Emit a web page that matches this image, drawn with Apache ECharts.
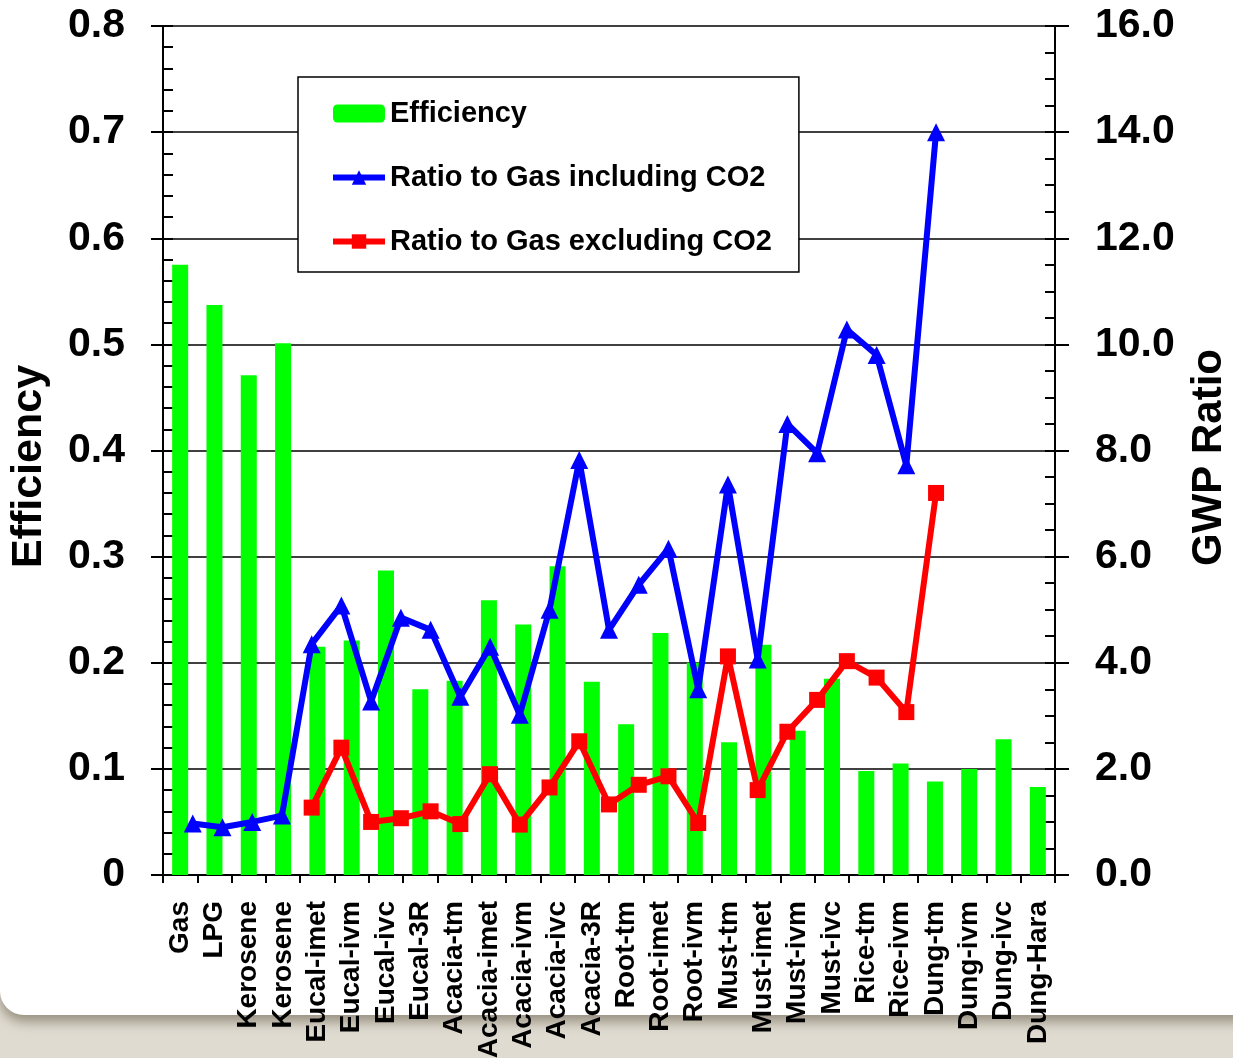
<!DOCTYPE html>
<html>
<head>
<meta charset="utf-8">
<script src="https://cdn.jsdelivr.net/npm/echarts@6/dist/echarts.min.js"></script>
<style>
  html, body { margin: 0; padding: 0; }
  body { width: 1233px; height: 1058px; background: #e0dbd1; position: relative; overflow: hidden; }
  #card {
    position: absolute; left: 0; top: -40px; width: 1300px; height: 1055px;
    background: #ffffff; border-radius: 0 0 0 24px;
    box-shadow: 0 7px 12px rgba(95, 85, 65, 0.55);
  }
  #chart { position: absolute; left: 0; top: 0; width: 1233px; height: 1058px; }
</style>
</head>
<body>
<div id="card"></div>
<div id="chart"></div>
<script>
// categories along the bottom
var fuels = ['Gas', 'LPG', 'Kerosene', 'Kerosene', 'Eucal-imet', 'Eucal-ivm', 'Eucal-ivc', 'Eucal-3R',
  'Acacia-tm', 'Acacia-imet', 'Acacia-ivm', 'Acacia-ivc', 'Acacia-3R', 'Root-tm', 'Root-imet', 'Root-ivm',
  'Must-tm', 'Must-imet', 'Must-ivm', 'Must-ivc', 'Rice-tm', 'Rice-ivm', 'Dung-tm', 'Dung-ivm', 'Dung-ivc', 'Dung-Hara'];

// efficiency (left axis)
var efficiency = [0.575, 0.537, 0.471, 0.501, 0.215, 0.221, 0.287, 0.175, 0.183, 0.259, 0.236, 0.291, 0.182,
  0.142, 0.228, 0.200, 0.125, 0.217, 0.136, 0.185, 0.098, 0.105, 0.088, 0.100, 0.128, 0.083];

// GWP ratios (right axis); the lines sit on their own 30-step x scale, as in the original sheet
var inclCO2 = [0.97, 0.90, 1.00, 1.12, 4.35, 5.08, 3.27, 4.85, 4.62, 3.36, 4.30, 3.02, 5.00, 7.82, 4.62,
  5.47, 6.15, 3.50, 7.36, 4.06, 8.50, 7.95, 10.28, 9.80, 7.72, 14.00];
var exclCO2 = [1.27, 2.40, 1.00, 1.07, 1.20, 0.96, 1.90, 0.95, 1.65, 2.52, 1.33, 1.70, 1.86, 0.98, 4.12,
  1.60, 2.70, 3.30, 4.03, 3.72, 3.07, 7.20];
var inclStart = 1;
var exclStart = 5;

var font = '"Liberation Sans", Arial, sans-serif';

var chart = echarts.init(document.getElementById('chart'));

var option = {
  animation: false,
  backgroundColor: 'transparent',
  textStyle: { fontFamily: font },
  grid: { left: 163, right: 178, top: 26, bottom: 183, outerBoundsMode: 'none', containLabel: false },
  legend: {
    orient: 'vertical',
    left: 298,
    top: 77,
    backgroundColor: '#ffffff',
    borderColor: '#000000',
    borderWidth: 1.5,
    padding: [22, 27, 16, 32],
    itemWidth: 52,
    itemHeight: 18,
    itemGap: 35,
    z: 10,
    lineStyle: { width: 6 },
    textStyle: { fontSize: 29, fontWeight: 'bold', color: '#000', fontFamily: font },
    data: ['Efficiency', 'Ratio to Gas including CO2', 'Ratio to Gas excluding CO2']
  },
  xAxis: [{
    type: 'category',
    data: fuels,
    boundaryGap: true,
    axisLine: { lineStyle: { color: '#000', width: 2 } },
    axisTick: { show: true, length: 8, lineStyle: { color: '#000', width: 2 } },
    axisLabel: {
      interval: 0, rotate: 90, margin: 26,
      fontSize: 28, fontWeight: 'bold', color: '#000', fontFamily: font
    },
    splitLine: { show: false }
  }, {
    type: 'value',
    min: 0,
    max: 30,
    show: false
  }],
  yAxis: [{
    type: 'value',
    position: 'left',
    min: 0, max: 0.8, interval: 0.1,
    name: 'Efficiency',
    nameLocation: 'middle',
    nameRotate: 90,
    nameGap: 112,
    nameTextStyle: { fontSize: 43, fontWeight: 'bold', color: '#000', fontFamily: font, padding: [0, 32, 0, 0] },
    axisLine: { show: true, lineStyle: { color: '#000', width: 2 } },
    axisTick: { show: true, length: 12, lineStyle: { color: '#000', width: 2 } },
    axisLabel: {
      margin: 38, fontSize: 41, fontWeight: 'bold', color: '#000', fontFamily: font,
      formatter: function (v) { return v === 0 ? '0' : v.toFixed(1); }
    },
    splitLine: { show: true, lineStyle: { color: '#000', width: 1.5 } }
  }, {
    type: 'value',
    position: 'right',
    min: 0, max: 16, interval: 2,
    name: 'GWP Ratio',
    nameLocation: 'middle',
    nameRotate: 90,
    nameGap: 133,
    nameTextStyle: { fontSize: 42, fontWeight: 'bold', color: '#000', fontFamily: font, padding: [0, 14, 0, 0] },
    axisLine: { show: true, lineStyle: { color: '#000', width: 2 } },
    axisTick: { show: true, length: 14, lineStyle: { color: '#000', width: 2 } },
    axisLabel: {
      margin: 40, fontSize: 41, fontWeight: 'bold', color: '#000', fontFamily: font,
      formatter: function (v) { return v.toFixed(1); }
    },
    splitLine: { show: false }
  }, {
    // inner minor ticks, left
    type: 'value',
    position: 'left',
    min: 0, max: 0.8, interval: 0.02,
    axisLine: { show: false },
    axisTick: { show: true, inside: true, length: 10, lineStyle: { color: '#000', width: 2 } },
    axisLabel: { show: false },
    splitLine: { show: false }
  }, {
    // inner minor ticks, right
    type: 'value',
    position: 'right',
    min: 0, max: 16, interval: 0.5,
    axisLine: { show: false },
    axisTick: { show: true, inside: true, length: 10, lineStyle: { color: '#000', width: 2 } },
    axisLabel: { show: false },
    splitLine: { show: false }
  }],
  series: [{
    name: 'Efficiency',
    type: 'bar',
    xAxisIndex: 0,
    yAxisIndex: 0,
    data: efficiency,
    barWidth: 16,
    itemStyle: { color: '#00ff00' },
    z: 2
  }, {
    name: 'Ratio to Gas including CO2',
    type: 'line',
    xAxisIndex: 1,
    yAxisIndex: 1,
    data: inclCO2.map(function (v, i) { return [i + inclStart, v]; }),
    symbol: 'triangle',
    symbolSize: 18,
    lineStyle: { color: '#0000ff', width: 6 },
    itemStyle: { color: '#0000ff' },
    z: 4
  }, {
    name: 'Ratio to Gas excluding CO2',
    type: 'line',
    xAxisIndex: 1,
    yAxisIndex: 1,
    data: exclCO2.map(function (v, i) { return [i + exclStart, v]; }),
    symbol: 'rect',
    symbolSize: 16,
    lineStyle: { color: '#ff0000', width: 6 },
    itemStyle: { color: '#ff0000' },
    z: 5
  }]
};

chart.setOption(option);
</script>
</body>
</html>
